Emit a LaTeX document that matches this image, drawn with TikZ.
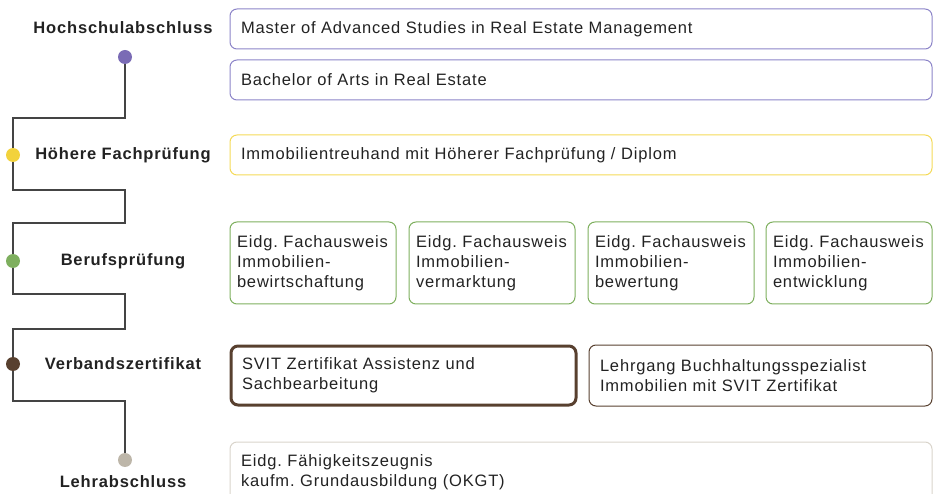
\documentclass[tikz,border=0pt]{standalone}
\usepackage{fontspec}
\setmainfont{Liberation Sans}[LetterSpace=5]
\usetikzlibrary{positioning}
\definecolor{hsdot}{HTML}{7A6BB5}
\definecolor{hsline}{HTML}{8C84C8}
\definecolor{hfdot}{HTML}{F2D23C}
\definecolor{hfline}{HTML}{F4DA58}
\definecolor{bpcol}{HTML}{7EAF5E}
\definecolor{vzcol}{HTML}{58402F}
\definecolor{ladot}{HTML}{BDB6A9}
\definecolor{laline}{HTML}{D9D4CB}
\definecolor{stepline}{HTML}{444444}
\definecolor{txt}{HTML}{222222}
\frenchspacing
\tikzstyle{every node}=[text=txt, font=\fontsize{16.5}{20}\selectfont]
\tikzstyle{level}=[font=\fontsize{16.5}{20}\selectfont\bfseries, anchor=center]
\tikzstyle{box}=[rounded corners=7pt, line width=1pt, anchor=north west,
  align=left, inner xsep=11pt, inner ysep=0pt, outer sep=0pt]
\tikzstyle{wide}=[text width=680pt]
\tikzstyle{small}=[inner xsep=7pt, text width=152pt, minimum height=82pt]

\begin{document}
\begin{tikzpicture}[x=1pt, y=-1pt]
\useasboundingbox (0,0) rectangle (937,494);
% Stufen
    \coordinate (dhs) at (125,57);
    \coordinate (dhf) at (13,155);
    \coordinate (dbp) at (13,261);
    \coordinate (dvz) at (13,364);
    \coordinate (dla) at (125,460);
% Verbindungslinie
    \draw[stepline, line width=1.2pt] (dhs) -- (dhs |- 0,118) -| (dhf)
      -- (dhf |- 0,190) -| (125,223) -| (dbp)
      -- (dbp |- 0,294) -| (125,329) -| (dvz)
      -- (dvz |- 0,401) -| (dla);
% Punkte
    \fill[hsdot] (dhs) circle(7pt);
    \fill[hfdot] (dhf) circle(7pt);
    \fill[bpcol] (dbp) circle(7pt);
    \fill[vzcol] (dvz) circle(7pt);
    \fill[ladot] (dla) circle(7pt);
% Beschriftungen
    \node[level] (lhs) at (123,28) {Hochschulabschluss};
    \node[level] (lhf) at (123,155) {Höhere Fachprüfung};
    \node[level] (lbp) at (123,261) {Berufsprüfung};
    \node[level] (lvz) at (123,364) {Verbandszertifikat};
    \node[level] (lla) at (123,482) {Lehrabschluss};
% Hochschulabschluss
    \node[box, wide, draw=hsline, minimum height=40pt] (mas) at (230,9)
      {Master of Advanced Studies in Real Estate Management};
    \node[box, wide, draw=hsline, minimum height=40pt] (bac) at (230,60)
      {Bachelor of Arts in Real Estate};
% Hoehere Fachpruefung
    \node[box, wide, draw=hfline, minimum height=40pt] (imm) at (230,135)
      {Immobilientreuhand mit Höherer Fachprüfung / Diplom};
% Berufspruefung
    \node[box, small, draw=bpcol] (fa1) at (230,222)
      {Eidg. Fachausweis\\Immobilien-\\bewirtschaftung};
    \node[box, small, draw=bpcol] (fa2) at (409,222)
      {Eidg. Fachausweis\\Immobilien-\\vermarktung};
    \node[box, small, draw=bpcol] (fa3) at (588,222)
      {Eidg. Fachausweis\\Immobilien-\\bewertung};
    \node[box, small, draw=bpcol] (fa4) at (766,222)
      {Eidg. Fachausweis\\Immobilien-\\entwicklung};
% Verbandszertifikat
    \node[box, draw=vzcol, line width=3pt, text width=323pt, minimum height=59pt] (svi) at (231,346)
      {SVIT Zertifikat Assistenz und\\Sachbearbeitung};
    \node[box, draw=vzcol, text width=321pt, minimum height=61pt] (buh) at (589,345)
      {Lehrgang Buchhaltungsspezialist\\Immobilien mit SVIT Zertifikat};
% Lehrabschluss
    \node[box, wide, draw=laline, minimum height=61pt] (efz) at (230,442)
      {Eidg. Fähigkeitszeugnis\\kaufm. Grundausbildung (OKGT)};
\end{tikzpicture}
\end{document}
